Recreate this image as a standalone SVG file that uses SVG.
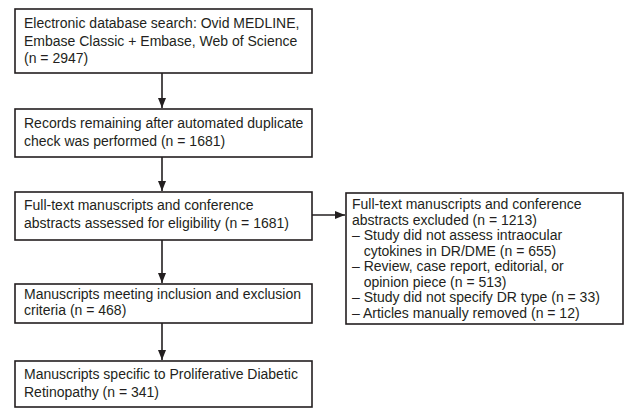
<svg xmlns="http://www.w3.org/2000/svg" width="625" height="410" viewBox="0 0 625 410">
<style>
.box{fill:#fff;stroke:#231f20;stroke-width:1.6}
.t{font-family:"Liberation Sans",Arial,sans-serif;font-size:14px;fill:#231f20}
.c{stroke:#231f20;stroke-width:1.6;fill:none}
</style>
<defs>
<marker id="ah" viewBox="0 0 10 8" refX="10" refY="4" markerWidth="10" markerHeight="8" markerUnits="userSpaceOnUse" orient="auto">
<path d="M0,0 L10,4 L0,8 Z" fill="#231f20"/>
</marker>
</defs>
<rect width="625" height="410" fill="#fff"/>
<g id="connectors">
<line class="c" x1="162" y1="73" x2="162" y2="108" marker-end="url(#ah)"/>
<line class="c" x1="162" y1="157" x2="162" y2="191" marker-end="url(#ah)"/>
<line class="c" x1="162" y1="240" x2="162" y2="283" marker-end="url(#ah)"/>
<line class="c" x1="162" y1="323" x2="162" y2="360" marker-end="url(#ah)"/>
<line class="c" x1="312" y1="215" x2="345" y2="215" marker-end="url(#ah)"/>
</g>
<g id="n1">
<rect class="box" x="15" y="9" width="297" height="64"/>
<text class="t" x="24" y="28">Electronic database search: Ovid MEDLINE,</text>
<text class="t" x="24" y="45.5">Embase Classic + Embase, Web of Science</text>
<text class="t" x="24" y="63">(n = 2947)</text>
</g>
<g id="n2">
<rect class="box" x="15" y="109" width="297" height="48"/>
<text class="t" x="24" y="128">Records remaining after automated duplicate</text>
<text class="t" x="24" y="145.5">check was performed (n = 1681)</text>
</g>
<g id="n3">
<rect class="box" x="15" y="192" width="297" height="48"/>
<text class="t" x="24" y="210">Full-text manuscripts and conference</text>
<text class="t" x="24" y="227.5">abstracts assessed for eligibility (n = 1681)</text>
</g>
<g id="n4">
<rect class="box" x="15" y="284" width="297" height="39"/>
<text class="t" x="24" y="299">Manuscripts meeting inclusion and exclusion</text>
<text class="t" x="24" y="315">criteria (n = 468)</text>
</g>
<g id="n5">
<rect class="box" x="15" y="361" width="297" height="46"/>
<text class="t" x="24" y="379">Manuscripts specific to Proliferative Diabetic</text>
<text class="t" x="24" y="396.5">Retinopathy (n = 341)</text>
</g>
<g id="n6">
<rect class="box" x="346" y="193" width="277" height="131"/>
<text class="t" x="352" y="209">Full-text manuscripts and conference</text>
<text class="t" x="352" y="224.5">abstracts excluded (n = 1213)</text>
<text class="t" x="352" y="240">– Study did not assess intraocular</text>
<text class="t" x="363.7" y="255.5">cytokines in DR/DME (n = 655)</text>
<text class="t" x="352" y="271">– Review, case report, editorial, or</text>
<text class="t" x="363.7" y="286.5">opinion piece (n = 513)</text>
<text class="t" x="352" y="302">– Study did not specify DR type (n = 33)</text>
<text class="t" x="352" y="317.5">– Articles manually removed (n = 12)</text>
</g>
</svg>
